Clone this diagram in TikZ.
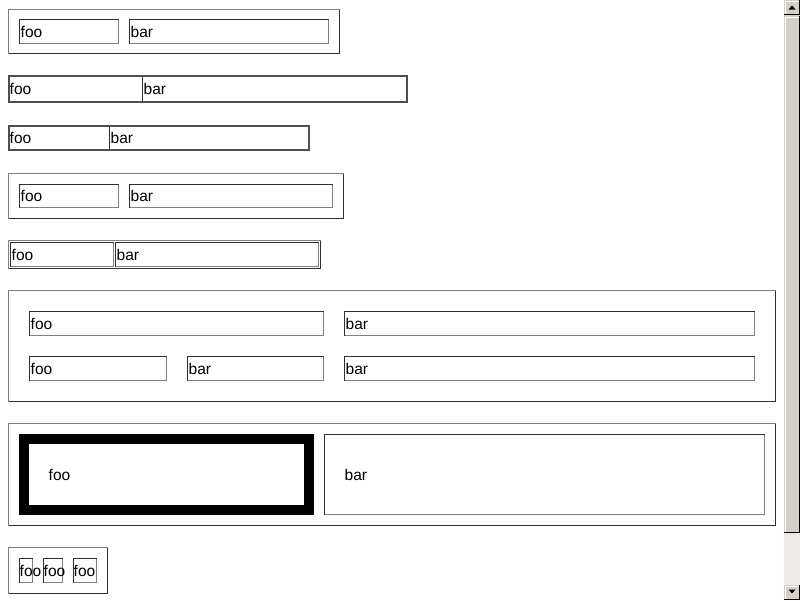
\documentclass[tikz,border=0pt]{standalone}
\usepackage{fontspec}
\setmainfont{Liberation Sans}
\definecolor{edgelite}{HTML}{808080}
\definecolor{edgedark}{HTML}{303030}
\definecolor{barface}{HTML}{D4D0C8}
\definecolor{bartrack}{HTML}{ECEAE6}
% table edge: light top/left, dark bottom/right
\newcommand{\tabedge}[4]{%
  \draw[edgelite] (#1,#4) |- (#3,#2);
  \draw[edgedark] (#1,#4) -| (#3,#2);}
% cell edge: dark top/left, light bottom/right
\newcommand{\celledge}[4]{%
  \draw[edgedark] (#1,#4) |- (#3,#2);
  \draw[edgelite] (#1,#4) -| (#3,#2);}
% scrollbar button or thumb
\newcommand{\barknob}[2]{%
  \fill[barface] (784,#1) rectangle (800,#2);
  \draw[white] (785.5,#2-1) |- (798.5,#1+1.5);
  \draw[black] (784,#2-.5) -| (799.5,#1);}
\tikzset{
  txt/.style={anchor=base west, inner sep=0pt, font=\fontsize{15.5}{17}\selectfont},
  rule/.style={edgedark!85!white, line width=2pt}
}
\begin{document}
\begin{tikzpicture}[x=1pt,y=-1pt]
  \useasboundingbox[fill=white] (0,0) rectangle (800,600);
  % table 1
  \tabedge{8.5}{9.5}{339.5}{53.5}
  \celledge{19.5}{19.5}{118.5}{43.5}
  \celledge{129.5}{19.5}{328.5}{43.5}
  \node[txt] (t1foo) at (20.5,37.5) {foo};
  \node[txt] (t1bar) at (130.5,37.5) {bar};
  % table 2
  \draw[rule] (9,76) rectangle (407,102);
  \draw[edgedark] (142.5,77) -- (142.5,101);
  \node[txt] (t2foo) at (9.5,94.5) {foo};
  \node[txt] (t2bar) at (143.5,94.5) {bar};
  % table 3
  \draw[rule] (9,126) rectangle (309,150);
  \draw[edgedark] (109.5,127) -- (109.5,149);
  \node[txt] (t3foo) at (9.5,143) {foo};
  \node[txt] (t3bar) at (110.5,143) {bar};
  % table 4
  \tabedge{8.5}{173.5}{343.5}{218.5}
  \celledge{19.5}{184.5}{118.5}{207.5}
  \celledge{129.5}{184.5}{332.5}{207.5}
  \node[txt] (t4foo) at (20.5,201.5) {foo};
  \node[txt] (t4bar) at (130.5,201.5) {bar};
  % table 5
  \tabedge{8.5}{240.5}{320.5}{268.5}
  \celledge{10.5}{242.5}{113.5}{266.5}
  \celledge{115.5}{242.5}{318.5}{266.5}
  \node[txt] (t5foo) at (11.5,260.5) {foo};
  \node[txt] (t5bar) at (116.5,260.5) {bar};
  % table 6
  \tabedge{8.5}{290.5}{775.5}{401.5}
  \celledge{29.5}{311.5}{323.5}{335.5}
  \celledge{344.5}{311.5}{754.5}{335.5}
  \celledge{29.5}{356.5}{166.5}{380.5}
  \celledge{187.5}{356.5}{323.5}{380.5}
  \celledge{344.5}{356.5}{754.5}{380.5}
  \node[txt] (t6foo) at (30.5,329.5) {foo};
  \node[txt] (t6bar) at (345.5,329.5) {bar};
  \node[txt] (t6foob) at (30.5,374.5) {foo};
  \node[txt] (t6bara) at (188.5,374.5) {bar};
  \node[txt] (t6barb) at (345.5,374.5) {bar};
  % table 7
  \tabedge{8.5}{423.5}{775.5}{525.5}
  \draw[line width=10pt] (24,439) rectangle (309,510);
  \celledge{324.5}{434.5}{764.5}{514.5}
  \node[txt] (t7foo) at (48.5,480) {foo};
  \node[txt] (t7bar) at (344.5,480) {bar};
  % table 8
  \tabedge{8.5}{547.5}{107.5}{593.5}
  \foreach \xa/\xb/\xt [count=\i] in {19.5/32.5/19.5, 43.5/62.5/43.5, 73.5/96.5/73.5}{
    \celledge{\xa}{558.5}{\xb}{582.5}
    \node[txt] (t8foo\i) at (\xt,576.5) {foo};
  }
  % scrollbar
  \fill[barface] (784,0) rectangle (800,600);
  \fill[bartrack] (784,533) rectangle (800,585);
  \barknob{0}{15}
  \barknob{16}{533}
  \barknob{585}{600}
  \fill (788.5,9.5) -- (795.5,9.5) -- (792,5.5) -- cycle;
  \fill (788.5,589.5) -- (795.5,589.5) -- (792,593.5) -- cycle;
\end{tikzpicture}
\end{document}
